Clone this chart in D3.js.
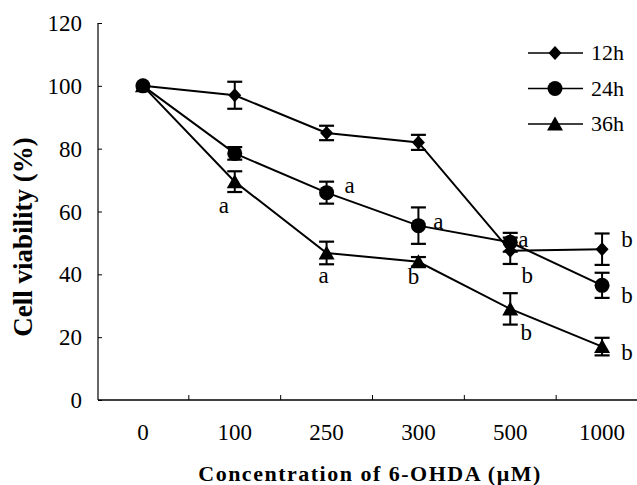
<!DOCTYPE html>
<html>
<head>
<meta charset="utf-8">
<script src="https://cdn.jsdelivr.net/npm/d3@7"></script>
<style>
  body { margin: 0; background: #fff; }
  text { font-family: "Liberation Serif", "Times New Roman", "DejaVu Serif", serif; }
</style>
</head>
<body>
<svg width="637" height="485"></svg>
<script>
// concentrations of 6-OHDA (uM)
let categories = ["0", "100", "250", "300", "500", "1000"]
let yTicks = [0, 20, 40, 60, 80, 100, 120]
let seriesNames = ["12h", "24h", "36h"]

// cell viability (%), mean and error
let h12 = [100, 97, 85, 82, 47.5, 48]
let h12err = [0, 4.3, 2.3, 2.4, 4.2, 5]
let h24 = [100, 78.5, 66, 55.5, 50.2, 36.5]
let h24err = [0, 2, 3.5, 5.8, 3, 4]
let h36 = [100, 69.5, 46.8, 44, 29, 17]
let h36err = [0, 3.3, 3.6, 1.5, 5, 2.8]

// significance letters
let sig12 = ["", "", "", "", "b", "b"]
let sig24 = ["", "", "a", "a", "a", "b"]
let sig36 = ["", "a", "a", "b", "b", "b"]

// where each letter sits relative to its point [dx, dy of baseline]
let sigOffset = {
  "0-4": [17, 32], "0-5": [25, -2],
  "1-2": [23, 0], "1-3": [20, 3], "1-4": [13, 5], "1-5": [25, 18],
  "2-1": [-11, 31], "2-2": [-3, 30], "2-3": [-5, 22], "2-4": [16, 31], "2-5": [25, 13]
}

let series = [
  {name: seriesNames[0], vals: h12, err: h12err, sig: sig12, shape: "diamond"},
  {name: seriesNames[1], vals: h24, err: h24err, sig: sig24, shape: "circle"},
  {name: seriesNames[2], vals: h36, err: h36err, sig: sig36, shape: "triangle"}
]

let serif = "'Liberation Serif', 'Times New Roman', 'DejaVu Serif', serif"
let svg = d3.select("svg")

let x = d3.scaleBand().domain(categories).range([97, 648])
let y = d3.scaleLinear().domain([0, 120]).range([400, 23])
let cx = d => x(d) + x.bandwidth() / 2

function marker(sel, shape){
  if (shape == "circle") {
    sel.append("circle").attr("r", 7.5).attr("fill", "#000")
  } else if (shape == "diamond") {
    sel.append("path").attr("d", "M0,-7L6.5,0L0,7L-6.5,0Z").attr("fill", "#000")
  } else {
    sel.append("path").attr("d", "M0,-7.5L8,6.5L-8,6.5Z").attr("fill", "#000")
  }
}

// axes
let yAxis = svg.append("g").attr("transform", "translate(98,0)")
  .call(d3.axisRight(y).tickValues(yTicks).tickSize(4).tickFormat(""))
yAxis.select(".domain").attr("d", "M0," + y(120) + "V" + y(0)).attr("stroke-width", 1.2)

svg.append("g").selectAll("text")
  .data(yTicks).enter()
    .append("text")
      .attr("x", 82)
      .attr("y", d => y(d))
      .attr("dy", "0.35em")
      .attr("text-anchor", "end")
      .attr("font-family", serif)
      .attr("font-size", 23)
      .text(d => d)

let xAxis = svg.append("g").attr("transform", "translate(0,400)")
  .call(d3.axisTop(x).tickSize(0).tickFormat(""))
xAxis.select(".domain").attr("d", "M98,0H648").attr("stroke-width", 1.5)
xAxis.selectAll(".edge")
  .data(categories.slice(1)).enter()
    .append("line")
      .attr("x1", d => x(d)).attr("x2", d => x(d))
      .attr("y1", 0).attr("y2", -5)
      .attr("stroke", "#000")

svg.append("g").selectAll("text")
  .data(categories).enter()
    .append("text")
      .attr("x", d => cx(d))
      .attr("y", 440)
      .attr("text-anchor", "middle")
      .attr("font-family", serif)
      .attr("font-size", 23)
      .text(d => d)

// titles
svg.append("text")
  .attr("x", 370).attr("y", 481)
  .attr("text-anchor", "middle")
  .attr("font-family", serif)
  .attr("font-size", 22).attr("font-weight", "bold").style("letter-spacing", "1.5px")
  .text("Concentration of 6-OHDA (\u03bcM)")

svg.append("text")
  .attr("transform", "translate(32,237) rotate(-90)")
  .attr("text-anchor", "middle")
  .attr("font-family", serif)
  .attr("font-size", 27).attr("font-weight", "bold")
  .text("Cell viability (%)")

// lines, error bars, markers
let line = d3.line().x((d, i) => cx(categories[i])).y(d => y(d))

series.forEach(function(s, si){
  svg.append("path")
    .attr("d", line(s.vals))
    .attr("fill", "none")
    .attr("stroke", "#000")
    .attr("stroke-width", 2)

  let eb = svg.append("g").selectAll("g")
    .data(s.vals.map((v, i) => ({v: v, e: s.err[i], c: categories[i]})).filter(d => d.e > 0))
    .enter().append("g")
  eb.append("line")
    .attr("x1", d => cx(d.c)).attr("x2", d => cx(d.c))
    .attr("y1", d => y(d.v + d.e)).attr("y2", d => y(d.v - d.e))
    .attr("stroke", "#000").attr("stroke-width", 2)
  eb.selectAll(".cap")
    .data(d => [[d.c, d.v + d.e], [d.c, d.v - d.e]]).enter()
    .append("line")
      .attr("x1", d => cx(d[0]) - 7.5).attr("x2", d => cx(d[0]) + 7.5)
      .attr("y1", d => y(d[1])).attr("y2", d => y(d[1]))
      .attr("stroke", "#000").attr("stroke-width", 2.2)

  svg.append("g").selectAll("g")
    .data(s.vals).enter()
    .append("g")
      .attr("transform", (d, i) => "translate(" + cx(categories[i]) + "," + y(d) + ")")
      .each(function(){ marker(d3.select(this), s.shape) })

  svg.append("g").selectAll("text")
    .data(s.vals.map((v, i) => ({v: v, i: i, t: s.sig[i]})).filter(d => d.t != ""))
    .enter().append("text")
      .attr("x", d => cx(categories[d.i]) + sigOffset[si + "-" + d.i][0])
      .attr("y", d => y(d.v) + sigOffset[si + "-" + d.i][1])
      .attr("text-anchor", "middle")
      .attr("font-family", serif)
      .attr("font-size", 23)
      .text(d => d.t)
})

// legend
let legend = svg.append("g").selectAll("g")
  .data(series).enter()
  .append("g")
    .attr("transform", (d, i) => "translate(528," + (53 + i * 35.5) + ")")
legend.append("line")
  .attr("x1", 0).attr("x2", 55).attr("y1", 0).attr("y2", 0)
  .attr("stroke", "#000").attr("stroke-width", 1.5)
legend.each(function(d){
  let g = d3.select(this).append("g").attr("transform", "translate(27,0)")
  marker(g, d.shape)
})
legend.append("text")
  .attr("x", 63).attr("y", 7)
  .attr("font-family", serif)
  .attr("font-size", 22)
  .text(d => d.name)
</script>
</body>
</html>
